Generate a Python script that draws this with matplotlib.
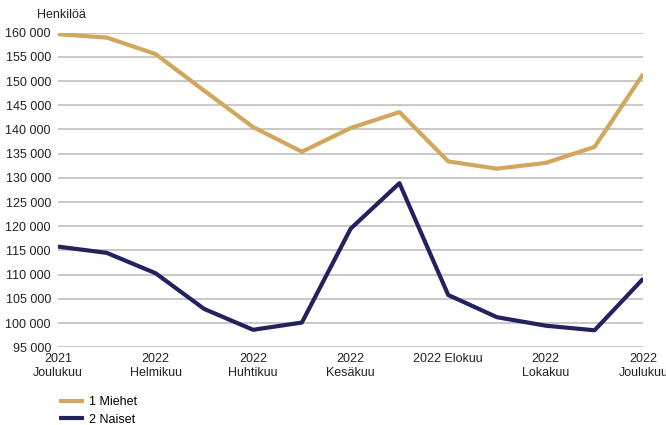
import matplotlib
matplotlib.use("Agg")
import matplotlib.pyplot as plt
import numpy as np

plt.rcParams['font.family'] = ['Liberation Sans', 'DejaVu Sans']

# Kuukaudet 2021 joulukuu - 2022 joulukuu
months = ['2021\nJoulukuu', '', '2022\nHelmikuu', '', '2022\nHuhtikuu', '',
          '2022\nKesäkuu', '', '2022 Elokuu', '', '2022\nLokakuu', '',
          '2022\nJoulukuu']
miehet = [159700, 159000, 155600, 148000, 140500, 135400, 140300,
          143600, 133400, 131900, 133100, 136400, 151500]
naiset = [115800, 114500, 110300, 102900, 98600, 100100, 119500,
          128900, 105800, 101200, 99450, 98500, 109200]

gold = '#D2A65C'
navy = '#23225F'

fig = plt.figure(figsize=(6.66, 4.25), dpi=100)
ax = fig.add_axes([0.087, 0.183, 0.879, 0.740])

x = np.arange(len(months))
ax.plot(x, miehet, color=gold, lw=3, label='1 Miehet', solid_capstyle='butt')
ax.plot(x, naiset, color=navy, lw=3, label='2 Naiset', solid_capstyle='butt')

ax.set_xlim(0, len(months) - 1)
ax.set_ylim(95000, 160000)
ax.set_yticks(np.arange(95000, 160001, 5000))
ax.set_yticklabels([f'{v:,}'.replace(',', ' ') for v in range(95000, 160001, 5000)])
ax.set_xticks(x)
ax.set_xticklabels(months)
ax.grid(axis='y', color='#C4C4C4', lw=1.3)
ax.set_axisbelow(True)
for s in ax.spines.values():
    s.set_visible(False)
ax.tick_params(length=0, labelsize=9, colors='#222222')
ax.tick_params(axis='y', pad=5)
ax.tick_params(axis='x', pad=4)

fig.text(0.055, 0.965, 'Henkilöä', fontsize=9, color='#222222', va='center')

leg = fig.legend(loc='lower left', bbox_to_anchor=(0.072, -0.028), frameon=False,
                 fontsize=9, handlelength=2.0, labelspacing=0.45, handletextpad=0.4)

fig.savefig('out.png', dpi=100)
